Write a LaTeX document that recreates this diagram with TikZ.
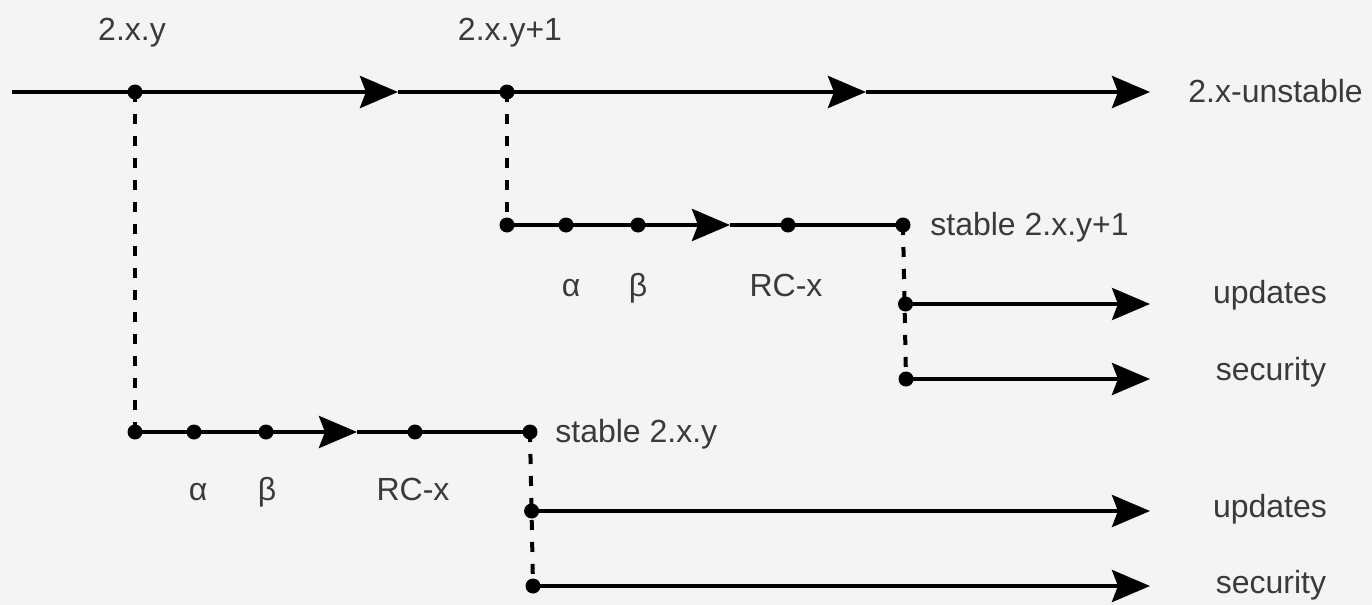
\documentclass[tikz,border=0pt]{standalone}
\usepackage{fontspec}
\setmainfont{Liberation Sans}
\usetikzlibrary{arrows.meta}
\definecolor{bg}{RGB}{244,244,244}
\definecolor{txt}{RGB}{58,58,58}
\begin{document}
\begin{tikzpicture}[x=0.5pt,y=-0.5pt,
  line/.style={line width=2.1pt},
  arr/.style={-{Stealth[length=19pt,width=16pt,inset=3pt]}},
  dsh/.style={line width=2pt,dash pattern=on 5pt off 6pt},
  dot/.style={circle,fill=black,inner sep=0pt,minimum size=7.5pt},
  lbl/.style={text=txt,font=\fontsize{16}{19}\selectfont,anchor=base,inner sep=0pt}]
\fill[bg] (0,0) rectangle (1372,605);
\useasboundingbox (0,0) rectangle (1372,605);

% main line
\coordinate (s) at (12,92);
\node[dot] (a0) at (135,92) {};
\coordinate (m1) at (398,92);
\node[dot] (b0) at (507,92) {};
\coordinate (m2) at (866,92);
\coordinate (e0) at (1150,92);
\draw[line,arr] (s) -- (m1);
\draw[line,arr] (m1) -- (m2);
\draw[line,arr] (m2) -- (e0);

% upper branch
\node[dot] (b1) at (507,225) {};
\node[dot] (ba) at (566,225) {};
\node[dot] (bb) at (638,225) {};
\coordinate (m4) at (730,225);
\node[dot] (br) at (788,225) {};
\node[dot] (bs) at (903,225) {};
\node[dot] (bu) at (905.5,304) {};
\node[dot] (bx) at (906,379) {};
\coordinate (bue) at (1150,304);
\coordinate (bxe) at (1150,379);
\draw[dsh] (b0.center) -- (b1.center);
\draw[line] (b1.center) -- (bb.center);
\draw[line,arr] (bb.center) -- (m4);
\draw[line] (m4) -- (bs.center);
\draw[dsh] (bs.center) -- (bx.center);
\draw[line,arr] (bu.center) -- (bue);
\draw[line,arr] (bx.center) -- (bxe);

% lower branch
\node[dot] (a1) at (135,432) {};
\node[dot] (aa) at (194,432) {};
\node[dot] (ab) at (266,432) {};
\coordinate (m3) at (357,432);
\node[dot] (ar) at (415,432) {};
\node[dot] (as) at (530,432) {};
\node[dot] (au) at (531.6,511) {};
\node[dot] (ax) at (533,586) {};
\coordinate (aue) at (1150,511);
\coordinate (axe) at (1150,586);
\draw[dsh] (a0.center) -- (a1.center);
\draw[line] (a1.center) -- (ab.center);
\draw[line,arr] (ab.center) -- (m3);
\draw[line] (m3) -- (as.center);
\draw[dsh] (as.center) -- (ax.center);
\draw[line,arr] (au.center) -- (aue);
\draw[line,arr] (ax.center) -- (axe);

% labels
\node[lbl] (t1) at (132,40) {2.x.y};
\node[lbl] (t2) at (510,40) {2.x.y+1};
\node[lbl,anchor=base west] (t3) at (1188,102) {2.x-unstable};
\node[lbl,anchor=base west] (t4) at (930,235) {stable 2.x.y+1};
\node[lbl] (t5) at (571,296) {α};
\node[lbl] (t6) at (638,296) {β};
\node[lbl] (t7) at (786,296) {RC-x};
\node[lbl] (t8) at (1270,303) {updates};
\node[lbl] (t9) at (1271,380) {security};
\node[lbl,anchor=base west] (t10) at (555,442) {stable 2.x.y};
\node[lbl] (t11) at (198,500) {α};
\node[lbl] (t12) at (267,500) {β};
\node[lbl] (t13) at (413,500) {RC-x};
\node[lbl] (t14) at (1270,517) {updates};
\node[lbl] (t15) at (1271,593) {security};
\end{tikzpicture}
\end{document}
